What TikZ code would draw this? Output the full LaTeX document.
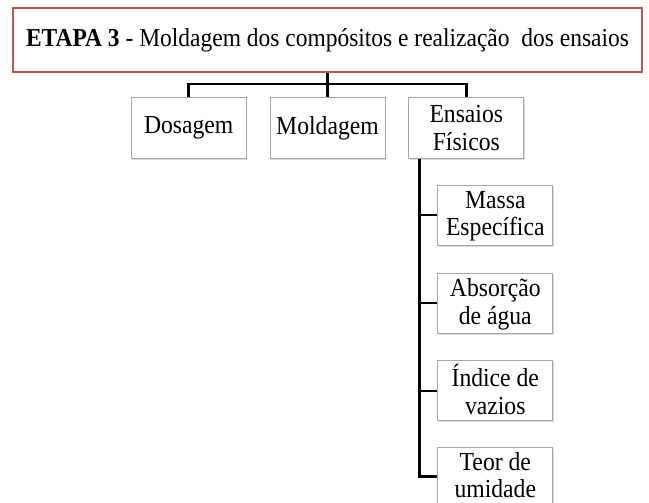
\documentclass[tikz,border=0pt]{standalone}
\usepackage{fontspec}
\setmainfont{Liberation Serif}[FakeStretch=0.91]
\usetikzlibrary{calc}
\usetikzlibrary{positioning}
\usetikzlibrary{shadows}
\definecolor{vermelho}{RGB}{192,80,77}
\tikzset{
	etapa/.style={
		rectangle,
		draw=vermelho, line width=2pt,
		fill=white,
		minimum width=629pt,
		minimum height=64pt,
		font=\fontsize{25.8}{28}\selectfont,
		drop shadow={shadow xshift=1pt, shadow yshift=-1.5pt, opacity=.25},
		text centered},
	caixa/.style={
		rectangle,
		draw=black!35, line width=.8pt,
		fill=white,
		minimum width=115pt,
		minimum height=61pt,
		align=center,
		inner sep=0pt,
		font=\fontsize{26}{27.5}\selectfont,
		drop shadow={shadow xshift=1pt, shadow yshift=-1.5pt, opacity=.3}},
	ensaio/.style={caixa, minimum height=60pt, text depth=3pt},
	linha/.style={draw, line width=2.5pt},
}

\begin{document}
\begin{tikzpicture}
	[node distance=23pt]
	\useasboundingbox (0,0) rectangle (649pt,-503pt);

	\node[etapa] (etapa) at (327.5pt,-40pt)
		{\textbf{ETAPA 3} - Moldagem dos compósitos e realização\ \ dos ensaios};
	\node[caixa, below=24pt of etapa] (moldagem) {Moldagem};
	\node[caixa, left=of moldagem] (dosagem) {Dosagem};
	\node[caixa, right=of moldagem] (fisicos) {Ensaios\\Físicos};

	% ensaios fisicos, um abaixo do outro
	\node[ensaio, below=26pt of fisicos, xshift=29pt] (massa) {Massa\\Específica};
	\node[ensaio, below=27pt of massa] (absorcao) {Absorção\\de água};
	\node[ensaio, below=27pt of absorcao] (indice) {Índice de\\vazios};
	\node[ensaio, below=26pt of indice, minimum height=58pt] (teor) {Teor de\\umidade};

	% ligacoes da etapa com as caixas
	\draw[linha] (etapa.south) |-+(0,-11pt)-| (dosagem.north);
	\draw[linha] (etapa.south) |-+(0,-11pt)-| (moldagem.north);
	\draw[linha] (etapa.south) |-+(0,-11pt)-| (fisicos.north);

	%% tronco que desce dos ensaios fisicos
	\coordinate (tronco) at ($(fisicos.south west)+(11pt,0)$);
	\draw[linha] (tronco) |- (massa.west);
	\draw[linha] (tronco) |- (absorcao.west);
	\draw[linha] (tronco) |- (indice.west);
	\draw[linha] (tronco) |- (teor.west);
\end{tikzpicture}
\end{document}
